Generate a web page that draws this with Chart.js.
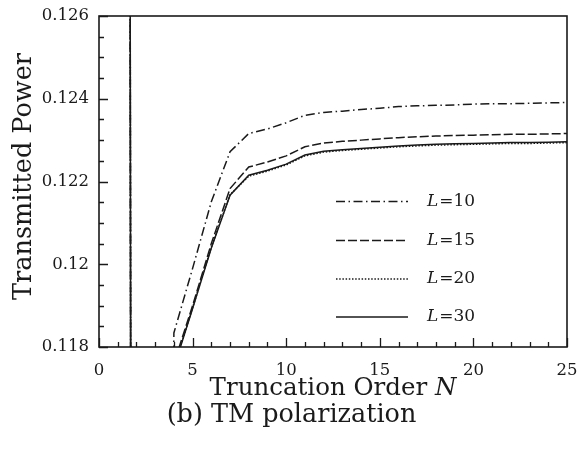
<!DOCTYPE html>
<html>
<head>
<meta charset="utf-8">
<script src="https://cdn.jsdelivr.net/npm/chart.js@4/dist/chart.umd.min.js"></script>
<style>
html,body{margin:0;padding:0;background:#fff;}
#wrap{width:577px;height:455px;position:relative;}
</style>
</head>
<body>
<div id="wrap"><canvas id="c" width="577" height="455"></canvas></div>
<script>
// ---- data ----
const truncationOrder = [1,2,3,4,5,6,7,8,9,10,11,12,13,14,15,16,17,18,19,20,21,22,23,24,25];
const powerL10 = [0.38,0.0,0.06,0.11834,0.11990,0.12151,0.12272,0.12316,0.12327,0.12342,0.12360,0.12367,0.12370,0.12374,0.12377,0.12381,0.12383,0.12384,0.12385,0.12387,0.12388,0.12388,0.12389,0.12390,0.12391];
const powerL15 = [0.38,0.0,0.06,0.1176,0.1190,0.1205,0.12183,0.12235,0.12247,0.12262,0.12284,0.12293,0.12297,0.12300,0.12303,0.12306,0.12308,0.12310,0.12311,0.12312,0.12313,0.12314,0.12314,0.12315,0.12316];
const powerL20 = [0.38,0.0,0.06,0.1175,0.11895,0.12041,0.12168,0.12213,0.12225,0.12240,0.12262,0.12271,0.12275,0.12278,0.12281,0.12284,0.12286,0.12288,0.12289,0.12290,0.12291,0.12292,0.12292,0.12293,0.12294];
const powerL30 = [0.38,0.0,0.06,0.1175,0.11893,0.12039,0.12167,0.12215,0.12227,0.12242,0.12264,0.12273,0.12277,0.12280,0.12283,0.12286,0.12288,0.12290,0.12291,0.12292,0.12293,0.12294,0.12294,0.12295,0.12296];
const seriesNames = ["10","15","20","30"];
const xTickValues = [0,5,10,15,20,25];
const yTickValues = [0.118,0.12,0.122,0.124,0.126];
const yTickLabels = ["0.118","0.12","0.122","0.124","0.126"];

const SERIF = '"DejaVu Serif","Liberation Serif",serif';
const INK = '#1a1a1a';

function pts(arr){ return truncationOrder.map((n,i)=>({x:n,y:arr[i]})); }
const styles = [
  {dash:[9,3.5,1.5,3.5]},
  {dash:[9,3]},
  {dash:[1.5,1.7]},
  {dash:[]}
];
const allSeries = [powerL10,powerL15,powerL20,powerL30];
const datasets = allSeries.map((arr,i)=>({
  label:'L='+seriesNames[i],
  data:pts(arr),
  borderColor:INK,
  borderWidth:1.5,
  borderDash:styles[i].dash,
  pointRadius:0,
  tension:0,
  fill:false
}));

const decor = {
  id:'decor',
  afterDraw(chart){
    const ctx = chart.ctx, a = chart.chartArea;
    const xs = chart.scales.x, ys = chart.scales.y;
    ctx.save();
    ctx.strokeStyle = INK;
    ctx.lineWidth = 1.3;
    ctx.setLineDash([]);
    ctx.beginPath();
    for(let v=xs.min; v<=xs.max+1e-9; v+=1){
      const px = Math.round(xs.getPixelForValue(v))+0.5;
      const major = Math.abs(v/5-Math.round(v/5))<1e-6;
      ctx.moveTo(px,a.bottom); ctx.lineTo(px,a.bottom-(major?9:5));
    }
    const ystep = 0.0005;
    for(let k=0; k<=Math.round((ys.max-ys.min)/ystep); k++){
      const v = ys.min + k*ystep;
      const py = Math.round(ys.getPixelForValue(v))+0.5;
      const major = k%4===0;
      ctx.moveTo(a.left,py); ctx.lineTo(a.left+(major?9:5),py);
    }
    ctx.stroke();
    ctx.lineWidth = 1.6;
    ctx.strokeRect(a.left,a.top,a.right-a.left,a.bottom-a.top);

    // legend
    const lx0 = 336, lx1 = 408, tx = 427;
    const rows = [201.5,240.5,279,317];
    chart.data.datasets.forEach((ds,i)=>{
      ctx.beginPath();
      ctx.lineWidth = 1.6;
      ctx.setLineDash(ds.borderDash||[]);
      ctx.moveTo(lx0,rows[i]); ctx.lineTo(lx1,rows[i]); ctx.stroke();
      ctx.setLineDash([]);
      ctx.fillStyle = INK;
      ctx.textBaseline='middle';
      ctx.textAlign='left';
      ctx.font = 'italic 17px '+SERIF;
      ctx.fillText('L',tx,rows[i]);
      const w = ctx.measureText('L').width;
      ctx.font = '17px '+SERIF;
      ctx.fillText('='+seriesNames[i],tx+w+1,rows[i]);
    });

    ctx.fillStyle = INK;
    ctx.textBaseline='alphabetic';
    const xt1 = 'Truncation Order ', xt2 = 'N';
    ctx.font = '24.5px '+SERIF;
    const w1 = ctx.measureText(xt1).width;
    ctx.font = 'italic 24.5px '+SERIF;
    const w2 = ctx.measureText(xt2).width;
    const cx = (a.left+a.right)/2;
    let sx = cx-(w1+w2)/2;
    ctx.textAlign='left';
    ctx.font = '24.5px '+SERIF;
    ctx.fillText(xt1,sx,395);
    ctx.font = 'italic 24.5px '+SERIF;
    ctx.fillText(xt2,sx+w1,395);

    ctx.font = '25.5px '+SERIF;
    ctx.textAlign='center';
    ctx.fillText('(b) TM polarization',chart.width/2+3,422);

    ctx.save();
    ctx.translate(31,(a.top+a.bottom)/2-5);
    ctx.rotate(-Math.PI/2);
    ctx.textAlign='center';
    ctx.font = '25.5px '+SERIF;
    ctx.fillText('Transmitted Power',0,0);
    ctx.restore();
    ctx.restore();
  }
};

new Chart(document.getElementById('c'),{
  type:'line',
  data:{datasets},
  options:{
    responsive:false,
    animation:false,
    devicePixelRatio:1,
    layout:{padding:{top:16,right:10,bottom:0,left:0}},
    plugins:{legend:{display:false},tooltip:{enabled:false}},
    scales:{
      x:{
        type:'linear',min:0,max:25,
        grid:{display:false,drawTicks:false},
        border:{display:false},
        afterBuildTicks(s){ s.ticks = xTickValues.map(v=>({value:v})); },
        afterFit(s){ s.height = 455-347; s.paddingLeft = 0; s.paddingRight = 0; },
        ticks:{color:INK,font:{family:SERIF,size:16.5},padding:14,maxRotation:0,
          callback:(v)=>String(v)}
      },
      y:{
        type:'linear',min:0.118,max:0.126,
        grid:{display:false,drawTicks:false},
        border:{display:false},
        afterBuildTicks(s){ s.ticks = yTickValues.map(v=>({value:v})); },
        afterFit(s){ s.width = 99; s.paddingTop = 0; s.paddingBottom = 0; },
        ticks:{color:INK,font:{family:SERIF,size:16.5},padding:10,
          callback:(v)=>{ const i = yTickValues.findIndex(t=>Math.abs(t-v)<1e-9); return i>=0?yTickLabels[i]:''; }}
      }
    }
  },
  plugins:[decor]
});
</script>
</body>
</html>
